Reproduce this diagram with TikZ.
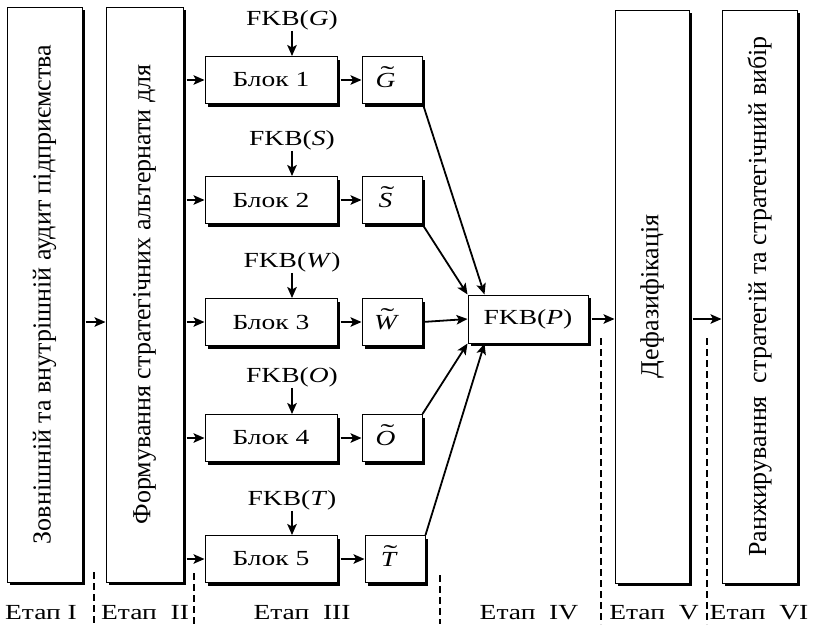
\documentclass[tikz,border=0pt]{standalone}
\usepackage{fontspec}
\setmainfont{Liberation Serif}
\usetikzlibrary{arrows.meta,shadows}

% horizontally widened text
\newcommand\hw[1]{\scalebox{1.28}[1]{#1}}
% italic letter with a tilde above it, set a little left of centre
\newcommand\tld[1]{\scalebox{1.28}[1]{\ooalign{\itshape #1\cr\hidewidth\kern0.15em\raisebox{0.2em}{\scalebox{1.5}[1.1]{\char"02DC}}\hidewidth\cr}}\hspace*{13pt}}

\begin{document}
\begin{tikzpicture}[x=1pt,y=-1pt,
  txt/.style={font=\fontsize{21.5}{25}\selectfont, inner sep=1pt},
  box/.style={draw, line width=1pt, fill=white, inner sep=0pt,
    drop shadow={shadow xshift=3pt, shadow yshift=-3pt, fill=black, opacity=1}},
  rot/.style={font=\fontsize{26}{30}\selectfont, inner sep=1pt, rotate=90},
  arr/.style={line width=1.8pt, -{Stealth[length=11pt,width=9.5pt,inset=2.5pt]}},
  stage/.style={dash pattern=on 7pt off 4pt, line width=1.2pt}]
\useasboundingbox (0,0) rectangle (813,624);

% stage boxes
\node[box, minimum width=75pt, minimum height=575pt] (I)  at (44.5,294.5) {};
\node[box, minimum width=77pt, minimum height=575pt] (II) at (144.5,294.5) {};
\node[box, minimum width=74pt, minimum height=573pt] (V)  at (652,296.5) {};
\node[box, minimum width=75pt, minimum height=573pt] (VI) at (759.5,296.5) {};
\node[rot] (tI)  at (I.center)  {Зовнішній та внутрішній аудит підприємства};
\node[rot] (tII) at (II.center) {Формування стратегічних альтернати для};
\node[rot] (tV)  at (V.center)  {Дефазифікація};
\node[rot] (tVI) at (VI.center) {Ранжирування\ \ стратегій та стратегічний вибір};

% processing blocks
\foreach \i/\y in {1/80,2/200,3/322,4/438,5/559}
  \node[box, txt, minimum width=132pt, minimum height=47pt] (b\i) at (271,\y) {\hw{Блок \i}};

% fuzzy results
\node[box, txt, minimum width=60pt, minimum height=47pt] (t1) at (392,80)  {\tld{G}};
\node[box, txt, minimum width=60pt, minimum height=47pt] (t2) at (392,200) {\tld{S}};
\node[box, txt, minimum width=60pt, minimum height=47pt] (t3) at (392,322) {\tld{W}};
\node[box, txt, minimum width=60pt, minimum height=47pt] (t4) at (392,438) {\tld{O}};
\node[box, txt, minimum width=60pt, minimum height=47pt] (t5) at (395,559) {\tld{T}};

% knowledge bases
\node[txt] (k1) at (292,20)  {\hw{FKB(\textit{G})}};
\node[txt] (k2) at (292,140) {\hw{FKB(\textit{S})}};
\node[txt] (k3) at (292,262) {\hw{FKB(\textit{W})}};
\node[txt] (k4) at (292,377) {\hw{FKB(\textit{O})}};
\node[txt] (k5) at (292,500) {\hw{FKB(\textit{T})}};

\node[box, txt, minimum width=120pt, minimum height=48pt] (P) at (528,319) {\hw{FKB(\textit{P})}};

% connectors
\draw[arr] ([xshift=3pt]I.east |- b3.west) -- (II.west |- b3.west);
\foreach \i in {1,...,5} {
  \draw[arr] ([xshift=3pt]II.east |- b\i.west) -- (b\i.west);
  \draw[arr] ([xshift=3pt]b\i.east) -- (t\i.west |- b\i.east);
  \draw[arr] (k\i.south) -- (k\i.south |- b\i.north);
}
\draw[arr] ([shift={(1,2)}]t1.south east) -- ([xshift=17pt]P.north west);
\draw[arr] ([shift={(1,2)}]t2.south east) -- (P.north west);
\draw[arr] (t3.east) -- (P.west);
\draw[arr] (t4.north east) -- (P.south west);
\draw[arr] (t5.north east) -- ([xshift=17pt]P.south west);
\draw[arr] ([xshift=3pt]P.east) -- (V.west |- P.east);
\draw[arr] ([xshift=3pt]V.east |- P.east) -- (VI.west |- P.east);

% stage separators
\draw[stage] (94,572) -- (94,624);
\draw[stage] (194,573) -- (194,624);
\draw[stage] (440,575) -- (440,624);
\draw[stage] (601,338) -- (601,624);
\draw[stage] (707,338) -- (707,624);

% stage captions
\node[txt, anchor=base] (s1) at (41,619)  {\hw{Етап I}};
\node[txt, anchor=base] (s2) at (145,619) {\hw{Етап\ \ II}};
\node[txt, anchor=base] (s3) at (302,619) {\hw{Етап\ \ III}};
\node[txt, anchor=base] (s4) at (529,619) {\hw{Етап\ \ IV}};
\node[txt, anchor=base] (s5) at (654,619) {\hw{Етап\ \ V}};
\node[txt, anchor=base] (s6) at (759,619) {\hw{Етап\ \ VI}};
\end{tikzpicture}
\end{document}
